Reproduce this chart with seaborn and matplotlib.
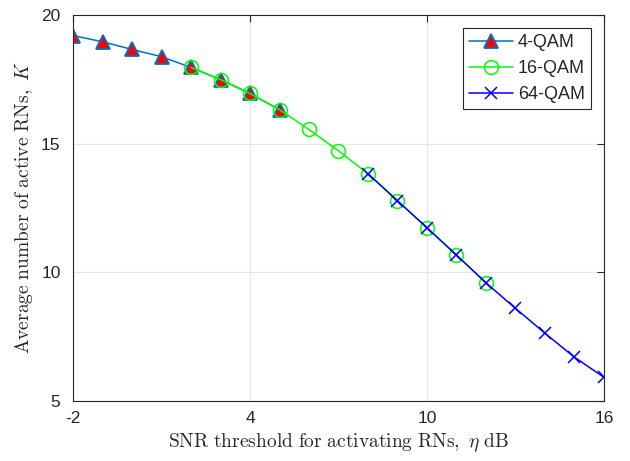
import numpy as np
import pandas as pd
import matplotlib
matplotlib.use('Agg')
import matplotlib.pyplot as plt
import seaborn as sns

sns.set_style('white')
plt.rcParams['font.family'] = ['Liberation Sans', 'DejaVu Sans']
plt.rcParams['mathtext.fontset'] = 'cm'
plt.rcParams['axes.unicode_minus'] = False

# SNR threshold (dB) and average number of active RNs
snr_4qam = [-2, -1, 0, 1, 2, 3, 4, 5]
k_4qam = [19.20, 18.96, 18.66, 18.38, 17.96, 17.49, 16.95, 16.32]

snr_16qam = [2, 3, 4, 5, 6, 7, 8, 9, 10, 11, 12]
k_16qam = [17.96, 17.49, 16.95, 16.32, 15.55, 14.72, 13.83, 12.78, 11.73, 10.67, 9.59]

snr_64qam = [8, 9, 10, 11, 12, 13, 14, 15, 16]
k_64qam = [13.83, 12.78, 11.73, 10.67, 9.59, 8.60, 7.63, 6.70, 5.92]

x_ticks = [-2, 4, 10, 16]
y_ticks = [5, 10, 15, 20]

fig = plt.figure(figsize=(6.3, 4.61), dpi=100)
ax = fig.add_axes([0.1159, 0.1302, 0.8428, 0.8373])

sns.lineplot(x=snr_4qam, y=k_4qam, ax=ax, color='#0072BD', lw=1.1,
             marker='^', markersize=10, markerfacecolor='red',
             markeredgecolor='#0072BD', markeredgewidth=1.3, label='4-QAM')
sns.lineplot(x=snr_16qam, y=k_16qam, ax=ax, color='#00FF00', lw=1.1,
             marker='o', markersize=10, markerfacecolor='none',
             markeredgecolor='#00FF00', markeredgewidth=1.1, label='16-QAM')
sns.lineplot(x=snr_64qam, y=k_64qam, ax=ax, color='#0000FF', lw=1.1,
             marker='x', markersize=8, markeredgecolor='#0000FF',
             markeredgewidth=1.1, label='64-QAM')

ax.set_xlim(-2, 16)
ax.set_ylim(5, 20)
ax.set_xticks(x_ticks)
ax.set_yticks(y_ticks)
ax.tick_params(direction='in', top=True, right=True, length=5, width=0.8,
               labelsize=12.5, colors='#262626')
ax.tick_params(axis='x', pad=7)
ax.tick_params(axis='y', pad=9)
ax.grid(True, color='#e6e6e6', lw=0.8)
for s in ax.spines.values():
    s.set_color('#262626')
    s.set_linewidth(0.8)

ax.set_xlabel(r'$\mathrm{SNR\ threshold\ for\ activating\ RNs,}\ \eta\ \mathrm{dB}$',
              fontsize=14, labelpad=4)
ax.set_ylabel(r'$\mathrm{Average\ number\ of\ active\ RNs,}\ K$',
              fontsize=14, labelpad=4)

leg = ax.legend(loc='upper right', fontsize=13, fancybox=False,
                edgecolor='#262626', framealpha=1, handlelength=2.4,
                borderaxespad=0.7, handletextpad=0.3, labelspacing=0.5,
                borderpad=0.35)
leg.get_frame().set_linewidth(0.8)

fig.savefig('out.png', dpi=100)
